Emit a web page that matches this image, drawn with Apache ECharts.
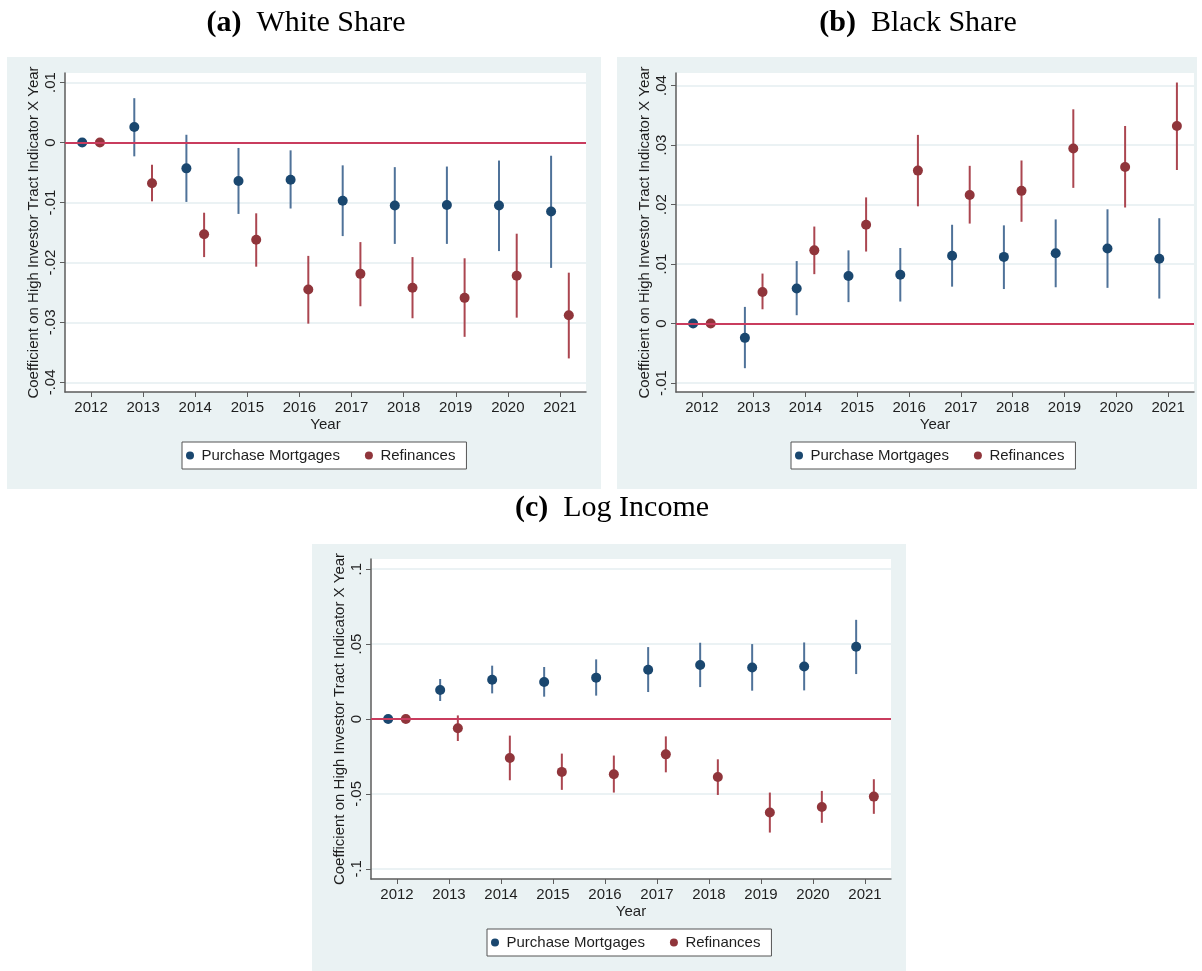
<!DOCTYPE html>
<html>
<head>
<meta charset="utf-8">
<title>High investor tract event-study coefficients</title>
<script src="https://cdn.jsdelivr.net/npm/echarts@6/dist/echarts.min.js"></script>
<style>
  html, body { margin: 0; padding: 0; background: #ffffff; }
  #chart { width: 1202px; height: 971px; }
</style>
</head>
<body>
<div id="chart"></div>
<script>
// ---- Data -----------------------------------------------------------------
const years = [2012, 2013, 2014, 2015, 2016, 2017, 2018, 2019, 2020, 2021];

// (a) White share: point estimates and 95% interval bounds
const whitePurchase   = [0, 0.0026, -0.0043, -0.0064, -0.0062, -0.0097, -0.0105, -0.0104, -0.0105, -0.0115];
const whitePurchaseLo = [0, -0.0023, -0.0099, -0.0119, -0.0110, -0.0156, -0.0169, -0.0169, -0.0181, -0.0209];
const whitePurchaseHi = [0, 0.0074, 0.0013, -0.0009, -0.0013, -0.0038, -0.0041, -0.0040, -0.0030, -0.0022];
const whiteRefi       = [0, -0.0068, -0.0153, -0.0162, -0.0245, -0.0219, -0.0242, -0.0259, -0.0222, -0.0288];
const whiteRefiLo     = [0, -0.0098, -0.0191, -0.0207, -0.0302, -0.0273, -0.0293, -0.0324, -0.0292, -0.0360];
const whiteRefiHi     = [0, -0.0037, -0.0117, -0.0118, -0.0189, -0.0166, -0.0191, -0.0193, -0.0152, -0.0217];

// (b) Black share
const blackPurchase   = [0, -0.0024, 0.0059, 0.0080, 0.0082, 0.0114, 0.0112, 0.0118, 0.0126, 0.0109];
const blackPurchaseLo = [0, -0.0075, 0.0014, 0.0036, 0.0037, 0.0062, 0.0058, 0.0061, 0.0060, 0.0042];
const blackPurchaseHi = [0, 0.0028, 0.0105, 0.0123, 0.0127, 0.0166, 0.0165, 0.0175, 0.0192, 0.0177];
const blackRefi       = [0, 0.0053, 0.0123, 0.0166, 0.0257, 0.0216, 0.0223, 0.0294, 0.0263, 0.0332];
const blackRefiLo     = [0, 0.0024, 0.0083, 0.0121, 0.0197, 0.0168, 0.0171, 0.0228, 0.0195, 0.0258];
const blackRefiHi     = [0, 0.0084, 0.0163, 0.0212, 0.0317, 0.0265, 0.0274, 0.0360, 0.0332, 0.0405];

// (c) Log income
const incomePurchase   = [0, 0.0193, 0.0262, 0.0247, 0.0276, 0.0329, 0.0360, 0.0344, 0.0351, 0.0482];
const incomePurchaseLo = [0, 0.0120, 0.0171, 0.0149, 0.0156, 0.0180, 0.0213, 0.0189, 0.0191, 0.0300];
const incomePurchaseHi = [0, 0.0267, 0.0356, 0.0347, 0.0398, 0.0480, 0.0509, 0.0500, 0.0511, 0.0662];
const incomeRefi       = [0, -0.0062, -0.0260, -0.0353, -0.0369, -0.0236, -0.0387, -0.0624, -0.0587, -0.0518];
const incomeRefiLo     = [0, -0.0147, -0.0409, -0.0473, -0.0491, -0.0356, -0.0507, -0.0758, -0.0693, -0.0633];
const incomeRefiHi     = [0, 0.0024, -0.0111, -0.0231, -0.0244, -0.0116, -0.0269, -0.0491, -0.0480, -0.0402];

// Y-axis tick values for each panel
const whiteTicks  = [-0.04, -0.03, -0.02, -0.01, 0, 0.01];
const blackTicks  = [-0.01, 0, 0.01, 0.02, 0.03, 0.04];
const incomeTicks = [-0.1, -0.05, 0, 0.05, 0.1];

const seriesNames = ['Purchase Mortgages', 'Refinances'];
const panelTitles = [['(a)', 'White Share'], ['(b)', 'Black Share'], ['(c)', 'Log Income']];
const yAxisTitle = 'Coefficient on High Investor Tract Indicator X Year';
const xAxisTitle = 'Year';

// ---- Appearance -------------------------------------------------------------
const SANS = "'Liberation Sans', Arial, sans-serif";
const SERIF = "'Liberation Serif', 'Times New Roman', serif";
const FONT_SIZE = 15;
const REGION_BG = '#eaf2f3';
const GRID_LINE = '#e5eef0';
const AXIS_COLOR = '#5c5c5c';
const TEXT_COLOR = '#1e1e1e';
const MARKER = ['#1a476f', '#90353b'];
const CI_LINE = ['#4f7299', '#ab4650'];
const ZERO_LINE = '#c93c5e';
const DODGE = [-0.17, 0.17];   // horizontal shift of each group around the year

const panels = [
  {
    ticks: whiteTicks, yMin: -0.0416, yMax: 0.0116,
    groups: [[whitePurchase, whitePurchaseLo, whitePurchaseHi], [whiteRefi, whiteRefiLo, whiteRefiHi]],
    box: { x: 7, y: 57, w: 594, h: 432 },
    grid: { left: 65, top: 73, width: 521, height: 319 },
    titleAt: [306, 23], legendAt: [182, 442]
  },
  {
    ticks: blackTicks, yMin: -0.0115, yMax: 0.0421,
    groups: [[blackPurchase, blackPurchaseLo, blackPurchaseHi], [blackRefi, blackRefiLo, blackRefiHi]],
    box: { x: 617, y: 57, w: 580, h: 432 },
    grid: { left: 676, top: 73, width: 518, height: 319 },
    titleAt: [918, 23], legendAt: [791, 442]
  },
  {
    ticks: incomeTicks, yMin: -0.1068, yMax: 0.1068,
    groups: [[incomePurchase, incomePurchaseLo, incomePurchaseHi], [incomeRefi, incomeRefiLo, incomeRefiHi]],
    box: { x: 312, y: 544, w: 594, h: 427 },
    grid: { left: 371, top: 559, width: 520, height: 320 },
    titleAt: [612, 508], legendAt: [487, 929]
  }
];

// Stata-style tick labels: ".01", "-.05", "0"
function tickText(v) {
  if (Math.abs(v) < 1e-12) return '0';
  const s = String(Math.abs(+v.toFixed(6))).replace(/^0/, '');
  return (v < 0 ? '-' : '') + s;
}

// Vertical confidence-interval segment
function renderInterval(params, api) {
  const x = api.value(0);
  const lo = api.coord([x, api.value(1)]);
  const hi = api.coord([x, api.value(2)]);
  return {
    type: 'line',
    shape: { x1: lo[0], y1: lo[1], x2: hi[0], y2: hi[1] },
    style: { stroke: api.visual('color'), lineWidth: 2 }
  };
}

const grids = [], xAxes = [], yAxes = [], series = [], legends = [], graphics = [];

panels.forEach((p, i) => {
  graphics.push({
    type: 'rect', z: -100,
    shape: { x: p.box.x, y: p.box.y, width: p.box.w, height: p.box.h },
    style: { fill: REGION_BG }
  });
  graphics.push({
    type: 'rect', z: -99,
    shape: { x: p.grid.left, y: p.grid.top, width: p.grid.width, height: p.grid.height },
    style: { fill: '#ffffff' }
  });
  graphics.push({
    type: 'text', x: p.titleAt[0], y: p.titleAt[1], z: 10,
    style: {
      text: '{b|' + panelTitles[i][0] + '}{r|' + panelTitles[i][1] + '}',
      align: 'center', verticalAlign: 'middle',
      rich: {
        b: { fontFamily: SERIF, fontSize: 30, fontWeight: 'bold', fill: '#000', padding: [0, 15, 0, 0] },
        r: { fontFamily: SERIF, fontSize: 30, fill: '#000' }
      }
    }
  });

  grids.push(Object.assign({ containLabel: false }, p.grid));

  xAxes.push({
    type: 'value', gridIndex: i, min: 2011.5, max: 2021.5,
    name: xAxisTitle, nameLocation: 'middle', nameGap: 25,
    nameTextStyle: { fontFamily: SANS, fontSize: FONT_SIZE, color: TEXT_COLOR },
    axisLine: { show: true, onZero: false, lineStyle: { color: AXIS_COLOR, width: 1.5 } },
    axisTick: { show: true, customValues: years, length: 5, lineStyle: { color: AXIS_COLOR, width: 1 } },
    axisLabel: {
      customValues: years, margin: 8, fontFamily: SANS, fontSize: FONT_SIZE, color: TEXT_COLOR,
      formatter: v => String(Math.round(v))
    },
    splitLine: { show: false }
  });

  yAxes.push({
    type: 'value', gridIndex: i, min: p.yMin, max: p.yMax,
    name: yAxisTitle, nameLocation: 'middle', nameGap: 24,
    nameTextStyle: { fontFamily: SANS, fontSize: FONT_SIZE, color: TEXT_COLOR },
    axisLine: { show: true, onZero: false, lineStyle: { color: AXIS_COLOR, width: 1.5 } },
    axisTick: { show: true, customValues: p.ticks, length: 5, lineStyle: { color: AXIS_COLOR, width: 1 } },
    axisLabel: {
      customValues: p.ticks, rotate: 90, margin: 7,
      fontFamily: SANS, fontSize: FONT_SIZE, color: TEXT_COLOR, formatter: tickText
    },
    splitLine: { show: true, lineStyle: { color: GRID_LINE, width: 1.5 } }
  });

  p.groups.forEach((g, k) => {
    const [est, lo, hi] = g;
    const intervals = years.map((yr, j) => [yr + DODGE[k], lo[j], hi[j]]);
    const points = years.map((yr, j) => [yr + DODGE[k], est[j]]);

    const ci = {
      type: 'custom', name: seriesNames[k] + ' interval',
      xAxisIndex: i, yAxisIndex: i, z: 2,
      renderItem: renderInterval,
      encode: { x: 0, y: [1, 2] },
      itemStyle: { color: CI_LINE[k] },
      data: intervals,
      silent: true
    };
    if (k === 0) {
      ci.markLine = {
        silent: true, symbol: ['none', 'none'],
        label: { show: false },
        lineStyle: { color: ZERO_LINE, width: 2, type: 'solid' },
        emphasis: { disabled: true },
        data: [{ yAxis: 0 }]
      };
    }
    series.push(ci);

    series.push({
      type: 'scatter', name: seriesNames[k],
      xAxisIndex: i, yAxisIndex: i, z: 3,
      symbol: 'circle', symbolSize: 10,
      itemStyle: { color: MARKER[k], opacity: 1 },
      data: points
    });
  });

  legends.push({
    left: p.legendAt[0], top: p.legendAt[1],
    orient: 'horizontal',
    data: seriesNames.map((n, k) => ({ name: n, icon: 'circle', itemStyle: { color: MARKER[k] } })),
    itemWidth: 13, itemHeight: 8, itemGap: 25,
    padding: [6, 11, 6, 4],
    backgroundColor: '#ffffff', borderColor: '#555555', borderWidth: 1, borderRadius: 0,
    selectedMode: false,
    textStyle: { fontFamily: SANS, fontSize: FONT_SIZE, color: TEXT_COLOR }
  });
});

const chart = echarts.init(document.getElementById('chart'), null, { renderer: 'canvas' });
chart.setOption({
  animation: false,
  backgroundColor: '#ffffff',
  graphic: { elements: graphics },
  grid: grids,
  xAxis: xAxes,
  yAxis: yAxes,
  legend: legends,
  series: series
});
</script>
</body>
</html>
